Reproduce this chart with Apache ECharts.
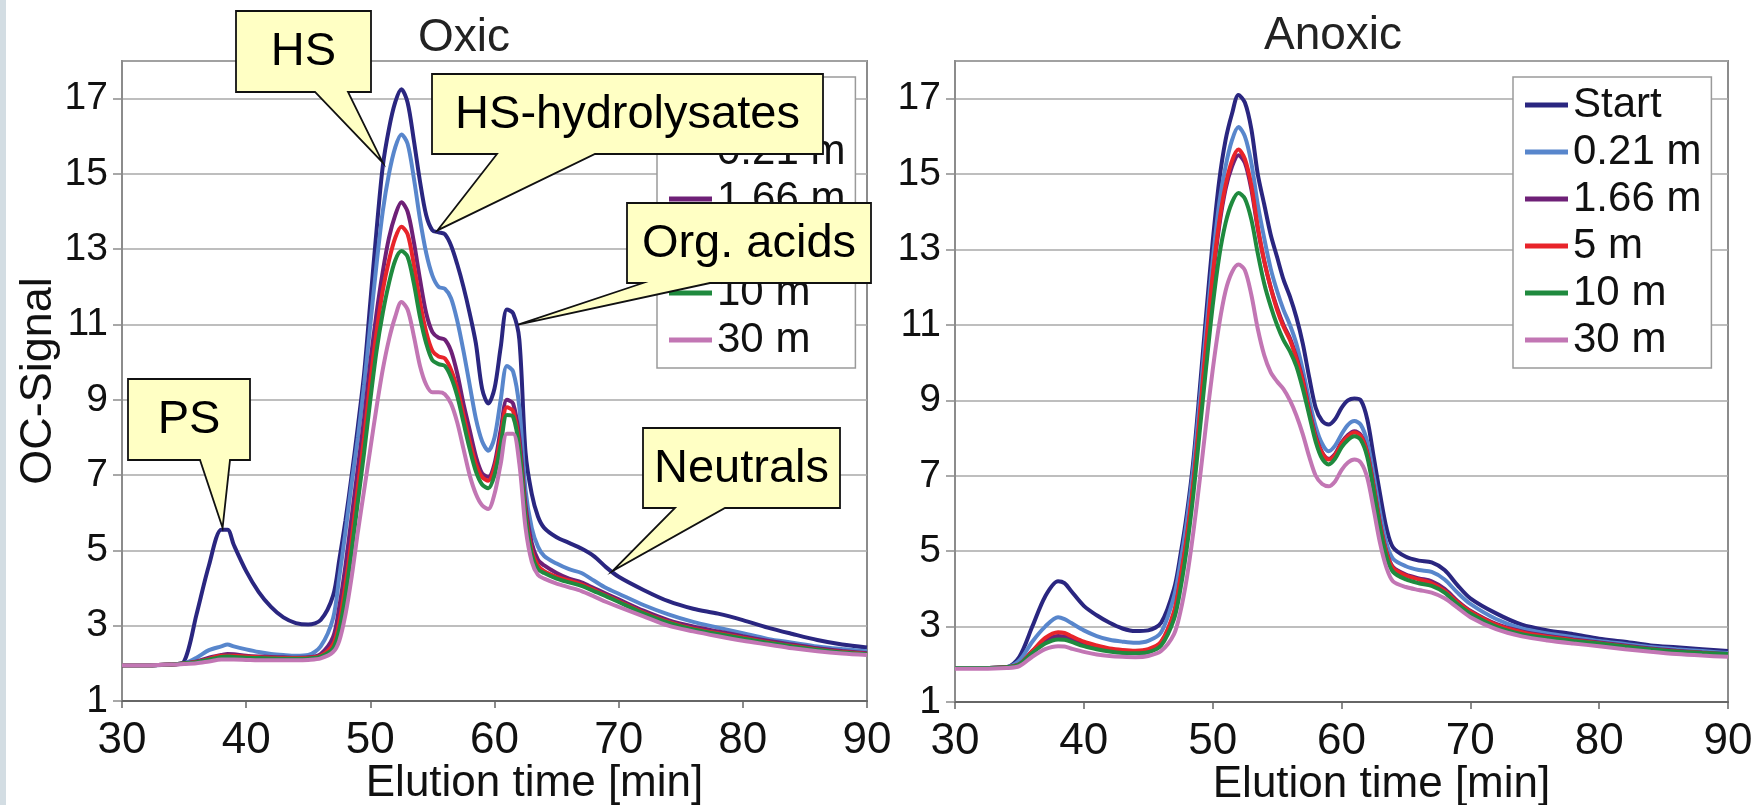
<!DOCTYPE html>
<html>
<head>
<meta charset="utf-8">
<script src="https://cdn.jsdelivr.net/npm/echarts@6/dist/echarts.min.js"></script>
<style>
html,body{margin:0;padding:0;background:#fff;}
#c{width:1762px;height:805px;}
</style>
</head>
<body>
<div id="c"></div>
<script>
// ---- data ----
const T = [30,32,34,35,36,37,38,38.5,39,40,
  41,42,43,44,45,46,47,47.5,48,48.5,
  49,49.5,50,50.5,51,51.5,52,52.5,53,53.5,
  54,54.5,55,55.5,56,56.5,57,57.5,58,58.5,
  59,59.5,60,60.5,61,61.5,62,62.5,63,63.5,
  64,65,66,67,68,69,70,72,74,76,
  78,80,82,84,86,88,90];

const seriesNames = ['Start','0.21 m','1.66 m','5 m','10 m','30 m'];
const seriesColors = ['#2a2680','#5886cc','#6e2077','#e8242a','#1f8a3e','#c276b4'];

// Oxic
const oxStart = [1.95,1.95,1.97,2.05,3.3,4.6,5.55,5.55,5.15,4.45,
  3.9,3.5,3.22,3.07,3.03,3.15,3.8,4.75,5.8,7.0,
  8.3,9.7,11.6,13.5,15.2,16.2,16.9,17.25,16.9,15.9,
  14.8,13.9,13.5,13.45,13.4,13.1,12.6,12.0,11.3,10.5,
  9.3,8.9,9.3,10.4,11.4,11.3,10.6,7.6,6.5,5.9,
  5.6,5.35,5.2,5.05,4.85,4.55,4.3,3.95,3.65,3.45,
  3.32,3.15,2.95,2.78,2.62,2.5,2.42];
const ox021 = [1.95,1.95,1.97,2.0,2.15,2.35,2.45,2.5,2.45,2.37,
  2.3,2.25,2.22,2.2,2.22,2.45,3.2,4.3,5.5,6.8,
  8.0,9.4,11.0,12.6,14.0,15.0,15.7,16.05,15.8,14.9,
  13.8,12.9,12.3,12.0,11.95,11.7,11.1,10.3,9.4,8.5,
  7.9,7.65,8.0,9.0,9.9,9.75,8.8,6.6,5.6,5.1,
  4.85,4.65,4.5,4.4,4.2,4.0,3.85,3.55,3.3,3.1,
  2.95,2.8,2.65,2.55,2.45,2.38,2.32];
const ox166 = [1.95,1.95,1.97,2.0,2.05,2.15,2.22,2.25,2.24,2.2,
  2.18,2.17,2.16,2.15,2.16,2.25,2.7,3.5,4.6,5.9,
  7.2,8.5,10.0,11.3,12.4,13.3,13.9,14.25,14.0,13.2,
  12.2,11.3,10.8,10.65,10.6,10.3,9.7,8.9,8.2,7.5,
  7.05,6.95,7.3,8.2,9.0,8.9,8.0,6.2,5.2,4.75,
  4.6,4.4,4.25,4.15,4.0,3.85,3.7,3.4,3.15,2.98,
  2.85,2.72,2.6,2.5,2.4,2.33,2.27];
const ox5 = [1.95,1.95,1.97,2.0,2.04,2.12,2.2,2.2,2.2,2.18,
  2.16,2.15,2.14,2.14,2.15,2.2,2.5,3.1,4.1,5.3,
  6.7,8.0,9.5,10.8,11.9,12.7,13.3,13.6,13.4,12.6,
  11.6,10.8,10.3,10.15,10.1,9.8,9.3,8.6,7.9,7.3,
  6.95,6.85,7.2,8.0,8.8,8.7,7.8,6.0,5.0,4.6,
  4.45,4.3,4.2,4.1,3.95,3.8,3.65,3.35,3.1,2.92,
  2.8,2.68,2.56,2.46,2.37,2.3,2.25];
const ox10 = [1.95,1.95,1.97,2.0,2.03,2.1,2.17,2.18,2.17,2.15,
  2.14,2.13,2.12,2.12,2.13,2.18,2.4,2.9,3.8,5.0,
  6.3,7.6,9.0,10.3,11.3,12.1,12.7,12.95,12.8,12.1,
  11.2,10.5,10.05,9.95,9.9,9.6,9.1,8.4,7.7,7.1,
  6.75,6.65,7.0,7.8,8.6,8.55,7.7,5.9,4.9,4.5,
  4.4,4.25,4.15,4.06,3.92,3.78,3.63,3.33,3.08,2.9,
  2.78,2.66,2.55,2.45,2.36,2.29,2.24];
const ox30 = [1.95,1.95,1.97,1.98,2.0,2.05,2.1,2.1,2.1,2.09,
  2.08,2.08,2.08,2.08,2.09,2.13,2.3,2.6,3.3,4.3,
  5.5,6.6,7.7,8.8,9.8,10.6,11.2,11.6,11.4,10.7,
  9.9,9.4,9.2,9.2,9.15,8.9,8.4,7.7,7.0,6.5,
  6.2,6.1,6.5,7.3,8.1,8.1,7.3,5.6,4.7,4.35,
  4.25,4.12,4.02,3.92,3.78,3.63,3.5,3.25,3.0,2.85,
  2.72,2.6,2.5,2.4,2.32,2.26,2.22];

// Anoxic
const anStart = [1.9,1.9,1.92,2.2,3.0,3.8,4.2,4.15,3.95,3.55,
  3.3,3.1,2.95,2.88,2.9,3.1,4.0,4.9,6.0,7.4,
  9.3,11.3,13.2,14.8,15.9,16.6,17.1,16.9,16.2,15.0,
  14.2,13.4,12.8,12.2,11.75,11.2,10.5,9.6,8.8,8.45,
  8.36,8.5,8.8,9.0,9.05,9.0,8.5,7.5,6.5,5.6,
  5.1,4.85,4.75,4.7,4.5,4.1,3.75,3.35,3.05,2.9,
  2.8,2.68,2.6,2.5,2.45,2.4,2.35];
const an021 = [1.9,1.9,1.92,2.1,2.6,3.0,3.25,3.2,3.1,2.9,
  2.75,2.65,2.6,2.57,2.62,2.85,3.8,4.7,5.8,7.2,
  9.0,10.9,12.7,14.2,15.2,15.9,16.25,16.0,15.3,14.2,
  13.3,12.5,11.9,11.4,11.0,10.5,9.8,9.0,8.3,7.85,
  7.65,7.8,8.1,8.35,8.45,8.35,7.9,7.0,6.0,5.2,
  4.8,4.6,4.5,4.45,4.25,3.9,3.6,3.2,2.95,2.82,
  2.72,2.62,2.54,2.46,2.4,2.35,2.3];
const an166 = [1.9,1.9,1.92,2.0,2.35,2.62,2.75,2.74,2.68,2.55,
  2.46,2.4,2.36,2.34,2.38,2.58,3.35,4.25,5.35,6.75,
  8.5,10.4,12.2,13.6,14.6,15.2,15.5,15.3,14.6,13.55,
  12.7,12.0,11.45,11.0,10.65,10.15,9.55,8.75,8.05,7.62,
  7.45,7.58,7.88,8.08,8.18,8.08,7.62,6.72,5.72,4.97,
  4.58,4.38,4.28,4.2,4.0,3.68,3.42,3.07,2.87,2.75,
  2.66,2.58,2.5,2.42,2.36,2.31,2.27];
const an5 = [1.9,1.9,1.92,2.0,2.35,2.7,2.85,2.83,2.75,2.6,
  2.5,2.42,2.38,2.36,2.4,2.6,3.4,4.3,5.4,6.8,
  8.6,10.5,12.3,13.7,14.7,15.35,15.65,15.4,14.7,13.6,
  12.7,12.0,11.4,10.95,10.6,10.1,9.5,8.7,8.0,7.6,
  7.43,7.55,7.85,8.05,8.15,8.05,7.6,6.7,5.7,4.95,
  4.55,4.35,4.25,4.15,3.95,3.65,3.4,3.05,2.85,2.73,
  2.64,2.56,2.48,2.4,2.34,2.3,2.26];
const an10 = [1.9,1.9,1.92,2.0,2.3,2.55,2.66,2.65,2.6,2.48,
  2.4,2.34,2.3,2.29,2.32,2.5,3.2,4.0,5.1,6.5,
  8.2,9.9,11.5,12.8,13.7,14.25,14.5,14.35,13.8,12.9,
  12.1,11.5,11.0,10.6,10.3,9.9,9.3,8.6,7.9,7.45,
  7.3,7.45,7.75,7.95,8.05,7.95,7.5,6.6,5.6,4.85,
  4.45,4.25,4.15,4.08,3.9,3.6,3.35,3.0,2.8,2.7,
  2.62,2.55,2.47,2.4,2.34,2.3,2.27];
const an30 = [1.88,1.88,1.9,1.95,2.2,2.4,2.48,2.47,2.42,2.33,
  2.26,2.22,2.2,2.19,2.22,2.35,2.8,3.4,4.3,5.5,
  6.9,8.4,9.8,11.0,11.9,12.4,12.6,12.45,11.8,10.9,
  10.2,9.75,9.5,9.3,9.0,8.6,8.1,7.5,7.0,6.78,
  6.72,6.85,7.15,7.35,7.43,7.35,6.95,6.1,5.2,4.55,
  4.2,4.05,3.97,3.9,3.75,3.5,3.25,2.93,2.74,2.63,
  2.55,2.48,2.4,2.33,2.27,2.23,2.2];

const oxicSeries = [oxStart, ox021, ox166, ox5, ox10, ox30];
const anoxicSeries = [anStart, an021, an166, an5, an10, an30];

const panelTitles = ['Oxic','Anoxic'];
const xTitle = 'Elution time [min]';
const yTitle = 'OC-Signal';

// callout annotations: text, anchor in data units (oxic panel)
const calloutTexts = ['HS','HS-hydrolysates','Org. acids','PS','Neutrals'];
const calloutAnchors = [[51.0,15.3],[55.4,13.5],[61.9,11.0],[38.1,5.6],[69.5,4.45]];

// ---- layout (pixels) ----
const calloutBoxes = [[236,11,371,92],[432,74,823,154],[627,203,871,283],[128,379,250,460],[643,428,840,508]];
const calloutBases = [[315,348],[497,595],[643,710],[200,230],[675,725]];

const FONT = 'Liberation Sans, Arial, Helvetica, sans-serif';

function mkSeries(arrs, idx){
  return arrs.map((a,k)=>({
    name: seriesNames[k],
    type: 'line',
    xAxisIndex: idx, yAxisIndex: idx,
    data: T.map((t,i)=>[t,a[i]]),
    symbol: 'none',
    smooth: 0.3,
    lineStyle: {width: 4, color: seriesColors[k]},
    itemStyle: {color: seriesColors[k]},
    animation: false
  }));
}

function xAx(idx){
  return {
    type:'value', gridIndex: idx, min:30, max:90, interval:10,
    axisLine:{show:true, lineStyle:{color:'#666', width:2}},
    axisTick:{show:true, length:7, lineStyle:{color:'#666', width:1.5}},
    axisLabel:{fontSize:44, color:'#111', margin:18, fontFamily:FONT},
    splitLine:{show:false},
    name: xTitle, nameLocation:'middle', nameGap:61, nameMoveOverlap:false,
    nameTextStyle:{fontSize:44, color:'#111', fontFamily:FONT, padding:[0,0,0,80]}
  };
}
function yAx(idx){
  const o = {
    type:'value', gridIndex: idx, min:1, max:18, interval:2,
    axisLine:{show:true, lineStyle:{color:'#8c8c8c', width:2}},
    axisTick:{show:true, length:9, lineStyle:{color:'#8c8c8c', width:1.5}},
    axisLabel:{fontSize:39, color:'#111', margin:14, fontFamily:FONT, showMaxLabel:false,
      formatter: v => (v===18 ? '' : String(v))},
    splitLine:{show:true, lineStyle:{color:'#a8a8a8', width:1.5}}
  };
  if (idx===0){
    o.name = yTitle; o.nameLocation='middle'; o.nameGap=61; o.nameMoveOverlap=false;
    o.nameTextStyle = {fontSize:45, color:'#111', fontFamily:FONT};
  }
  return o;
}

function mkLegend(left){
  return {
    orient:'vertical', left:left, top:77,
    data: seriesNames,
    icon:'rect', itemWidth:43, itemHeight:5, itemGap:5, itemTextGap:7,
    padding:[7,10,7,12],
    backgroundColor:'#fff', borderColor:'#9a9a9a', borderWidth:1.5,
    textStyle:{fontSize:42, lineHeight:42, color:'#111', fontFamily:FONT},
    selectedMode:false
  };
}

const chart = echarts.init(document.getElementById('c'));
chart.setOption({
  animation:false,
  backgroundColor:'#ffffff',
  title:[
    {text:panelTitles[0], left:459, top:10, textAlign:'center',
     textStyle:{fontSize:46, fontWeight:'normal', color:'#222', fontFamily:FONT}},
    {text:panelTitles[1], left:1328, top:8, textAlign:'center',
     textStyle:{fontSize:46, fontWeight:'normal', color:'#222', fontFamily:FONT}}
  ],
  grid:[
    {left:122, right:895, top:61, bottom:104, show:true, borderColor:'#8c8c8c', borderWidth:2,
     containLabel:false, outerBoundsMode:'none'},
    {left:955, right:34, top:61, bottom:103, show:true, borderColor:'#8c8c8c', borderWidth:2,
     containLabel:false, outerBoundsMode:'none'}
  ],
  xAxis:[xAx(0), xAx(1)],
  yAxis:[yAx(0), yAx(1)],
  legend:[mkLegend(657), mkLegend(1513)],
  series:[...mkSeries(oxicSeries,0), ...mkSeries(anoxicSeries,1)]
});

// graphic annotations
const gfx = [{type:'rect', shape:{x:0,y:0,width:6,height:805}, style:{fill:'#d3dde3'}, z:0, silent:true}];
calloutTexts.forEach((txt,i)=>{
  const [x0,y0,x1,y1] = calloutBoxes[i];
  const [b0,b1] = calloutBases[i];
  const tip = chart.convertToPixel({xAxisIndex:0, yAxisIndex:0}, calloutAnchors[i]);
  gfx.push({
    type:'polygon', z:100,
    shape:{points:[[x0,y0],[x1,y0],[x1,y1],[b1,y1],[tip[0],tip[1]],[b0,y1],[x0,y1]]},
    style:{fill:'#ffffc4', stroke:'#111', lineWidth:1.8}
  });
  gfx.push({
    type:'text', z:101,
    style:{text:txt, x:(x0+x1)/2, y:(y0+y1)/2+1, align:'center', verticalAlign:'middle',
      textAlign:'center', textVerticalAlign:'middle',
      font:'47px '+FONT, fill:'#000'}
  });
});
chart.setOption({graphic:gfx});
</script>
</body>
</html>
